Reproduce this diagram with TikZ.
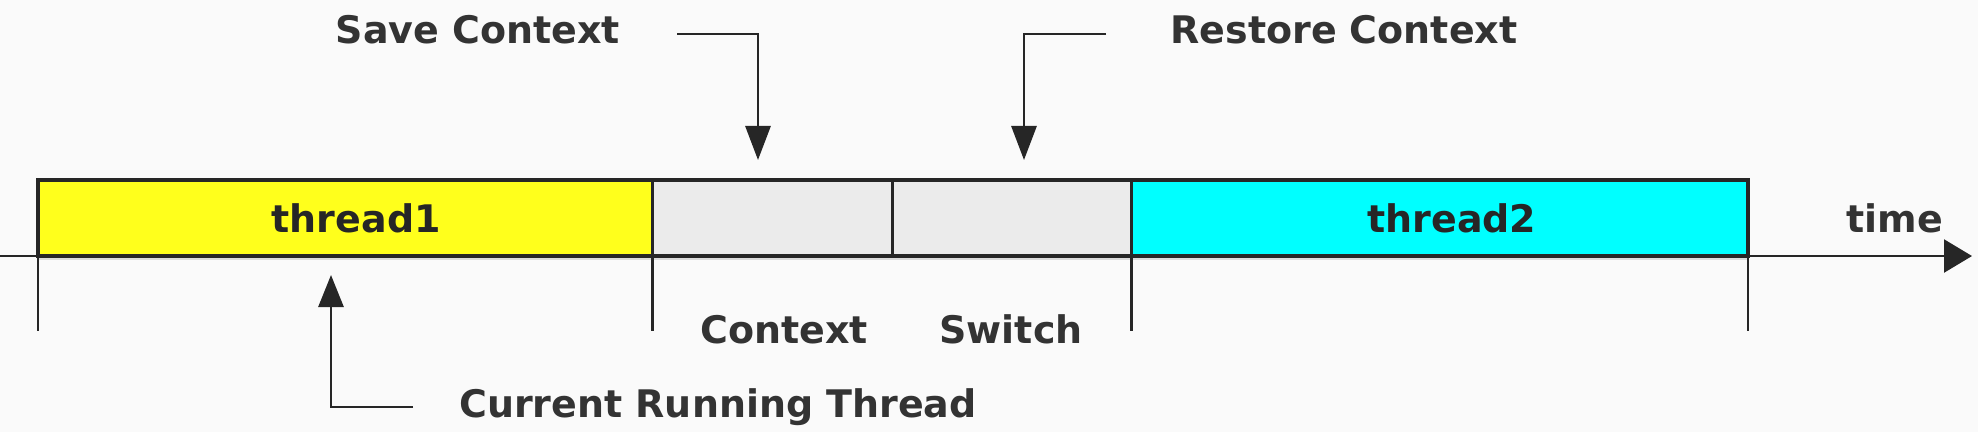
\documentclass[tikz,border=0pt]{standalone}
\usepackage{fontspec}
\setmainfont{DejaVu Sans}
\usepackage{tikz}
\usepackage{xcolor}
\usetikzlibrary{positioning,arrows.meta,shadows}

\definecolor{tyellow}{RGB}{255,255,28}
\definecolor{tcyan}{RGB}{0,255,255}

\begin{document}
\begin{tikzpicture}[x=0.01cm, y=-0.01cm,
	font=\fontsize{10.8}{13}\selectfont\bfseries,
	slot/.style={draw=black!85, line width=.9pt, minimum height=0.76cm, inner sep=0pt,
		outer sep=0pt, anchor=west, text=black!85,
		drop shadow={opacity=.25, shadow xshift=0pt, shadow yshift=-1.2pt}},
	lbl/.style={anchor=base, text=black!80},
	pointer/.style={line width=.8pt, draw=black!85}]

\useasboundingbox (0,0) rectangle (1978,432); % limit img size
\fill[black!2] (0,0) rectangle (1978,432);

	\newcommand{\swgrey}{black!8}

	% time axis
	\coordinate (t0) at (0,256);
	\coordinate (t1) at (1972,256);
	\draw[line width=.7pt, black!85, -{Triangle[length=2.8mm,width=3.3mm]}] (t0) -- (t1);

	% slots
	\node[slot, fill=tyellow, minimum width=6.14cm] (thread1) at (38,218) {\hspace*{0.22cm}thread1};
	\node[slot, fill=\swgrey, minimum width=2.4cm, right=0pt of thread1] (ctx1) {};
	\node[slot, fill=\swgrey, minimum width=2.39cm, right=0pt of ctx1] (ctx2) {};
	\node[slot, fill=tcyan, minimum width=6.16cm, right=0pt of ctx2] (thread2) {\hspace*{0.24cm}thread2};

	% ticks
	\foreach \n in {thread1.south west, ctx1.south west, thread2.south west, thread2.south east}
		\draw[line width=.7pt, black!85] (\n) -- ++(0,75);

	% labels
	\node[lbl] (time) at (1895,232) {time};
	\node[lbl] (ctxlbl) at (784,343) {Context};
	\node[lbl] (swlbl) at (1011,343) {Switch};
	\node[lbl] (savelbl) at (478,43) {Save Context};
	\node[lbl] (restlbl) at (1344,43) {Restore Context};
	\node[lbl] (curlbl) at (718,417) {Current Running Thread};

	% pointers
	\coordinate (savefrom) at (677,34);
	\coordinate (saveto) at (758,160);
	\coordinate (restfrom) at (1106,34);
	\coordinate (restto) at (1024,160);
	\coordinate (curfrom) at (413,407);
	\coordinate (curto) at (331,275);
	\draw[pointer, -{Triangle[length=3.4mm,width=2.5mm]}] (savefrom) -| (saveto);
	\draw[pointer, -{Triangle[length=3.4mm,width=2.5mm]}] (restfrom) -| (restto);
	\draw[pointer, -{Triangle[length=3.2mm,width=2.5mm]}] (curfrom) -| (curto);

\end{tikzpicture}
\end{document}
